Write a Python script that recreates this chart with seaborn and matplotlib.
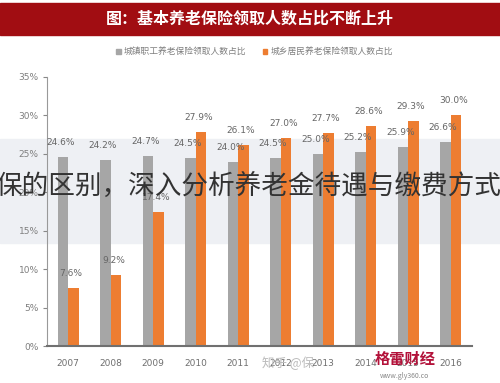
import matplotlib
matplotlib.use("Agg")
import matplotlib.pyplot as plt
import seaborn as sns
import pandas as pd
from matplotlib.patches import Rectangle

# data
years = ["2007", "2008", "2009", "2010", "2011", "2012", "2013", "2014", "2015", "2016"]
urban_share = [24.6, 24.2, 24.7, 24.5, 24.0, 24.5, 25.0, 25.2, 25.9, 26.6]
rural_share = [7.6, 9.2, 17.4, 27.9, 26.1, 27.0, 27.7, 28.6, 29.3, 30.0]
series_names = ["城镇职工养老保险领取人数占比", "城乡居民养老保险领取人数占比"]
title_text = "图：基本养老保险领取人数占比不断上升"
overlay_text = "保的区别，深入分析养老金待遇与缴费方式"

GRAY = "#a6a6a6"
ORANGE = "#ed7d31"
BANNER = "#a10d12"
TXT = "#7f7f7f"

df = pd.DataFrame({
    "year": years * 2,
    "share": urban_share + rural_share,
    "series": [series_names[0]] * len(years) + [series_names[1]] * len(years),
})

sns.set_style("white")
plt.rcParams["font.family"] = ["Noto Sans CJK SC", "DejaVu Sans"]

fig = plt.figure(figsize=(5, 3.83), dpi=100)
ax = fig.add_axes([0.094, 0.0966, 0.85, 0.7024])
ax.set_facecolor("none")

# washed-out band behind the bars
fig.patches.append(Rectangle((0, 1 - 243 / 383), 1, (243 - 139) / 383,
                             transform=fig.transFigure, color="#eef0f4", zorder=-1))

sns.barplot(data=df, x="year", y="share", hue="series", order=years,
            hue_order=series_names, palette=[GRAY, ORANGE], width=0.5,
            saturation=1, ax=ax, legend=False, zorder=2, linewidth=0)

for cont, vals in zip(ax.containers, [urban_share, rural_share]):
    for bar, v in zip(cont, vals):
        ax.text(bar.get_x() + bar.get_width() / 2 - 0.06, v + 1.3, f"{v:.1f}%",
                ha="center", va="bottom", fontsize=6.5, color="#666666",
                family=["Liberation Sans Narrow", "DejaVu Sans"])

ax.set_ylim(0, 35)
ax.set_xlim(-0.5, 9.5)
ax.set_yticks(range(0, 36, 5))
ax.set_yticklabels([f"{t}%" for t in range(0, 36, 5)])
ax.set_xlabel("")
ax.set_ylabel("")
ax.tick_params(axis="y", length=3, width=0.8, color="#888888", labelsize=6.5,
               labelcolor=TXT, pad=3, left=True)
ax.tick_params(axis="x", length=0, labelsize=6.5, labelcolor="#6f6f6f", pad=9)
for lab in ax.get_xticklabels() + ax.get_yticklabels():
    lab.set_family(["Liberation Sans Narrow", "DejaVu Sans"])
sns.despine(ax=ax, top=True, right=True)
ax.spines["left"].set_color("#999999")
ax.spines["left"].set_linewidth(0.8)
ax.spines["bottom"].set_color("#707070")
ax.spines["bottom"].set_linewidth(1.5)

# title banner
fig.patches.append(Rectangle((0, 1 - 35 / 383), 1, 32 / 383,
                             transform=fig.transFigure, color=BANNER, zorder=1))
fig.text(0.5, 1 - 19 / 383, title_text, ha="center", va="center",
         fontsize=11.5, color="white", fontweight="bold")

# legend row
leg_y = 1 - 51 / 383
for x0, name, col in [(0.232, series_names[0], GRAY), (0.525, series_names[1], ORANGE)]:
    fig.patches.append(Rectangle((x0, leg_y - 0.008), 0.009, 0.012,
                                 transform=fig.transFigure, color=col))
    fig.text(x0 + 0.016, leg_y, name, ha="left", va="center", fontsize=6.3, color=TXT)

# overlaid caption text
fig.text(-0.01, 1 - 186 / 383, overlay_text, ha="left", va="center",
         fontsize=19.2, color="#333333", fontweight="light", zorder=5)

# watermarks
fig.text(0.525, 1 - 363 / 383, "知乎 @保", ha="left", va="center",
         fontsize=9, color="#bbbbbb", zorder=5)
fig.text(0.81, 1 - 359 / 383, "格雷财经", ha="center", va="center",
         fontsize=11, color="#b3123a", fontweight="bold", zorder=5)
fig.text(0.81, 1 - 376 / 383, "www.gly360.co", ha="center", va="center",
         fontsize=5, color="#888888", zorder=5)

fig.savefig("out.png", dpi=100)
